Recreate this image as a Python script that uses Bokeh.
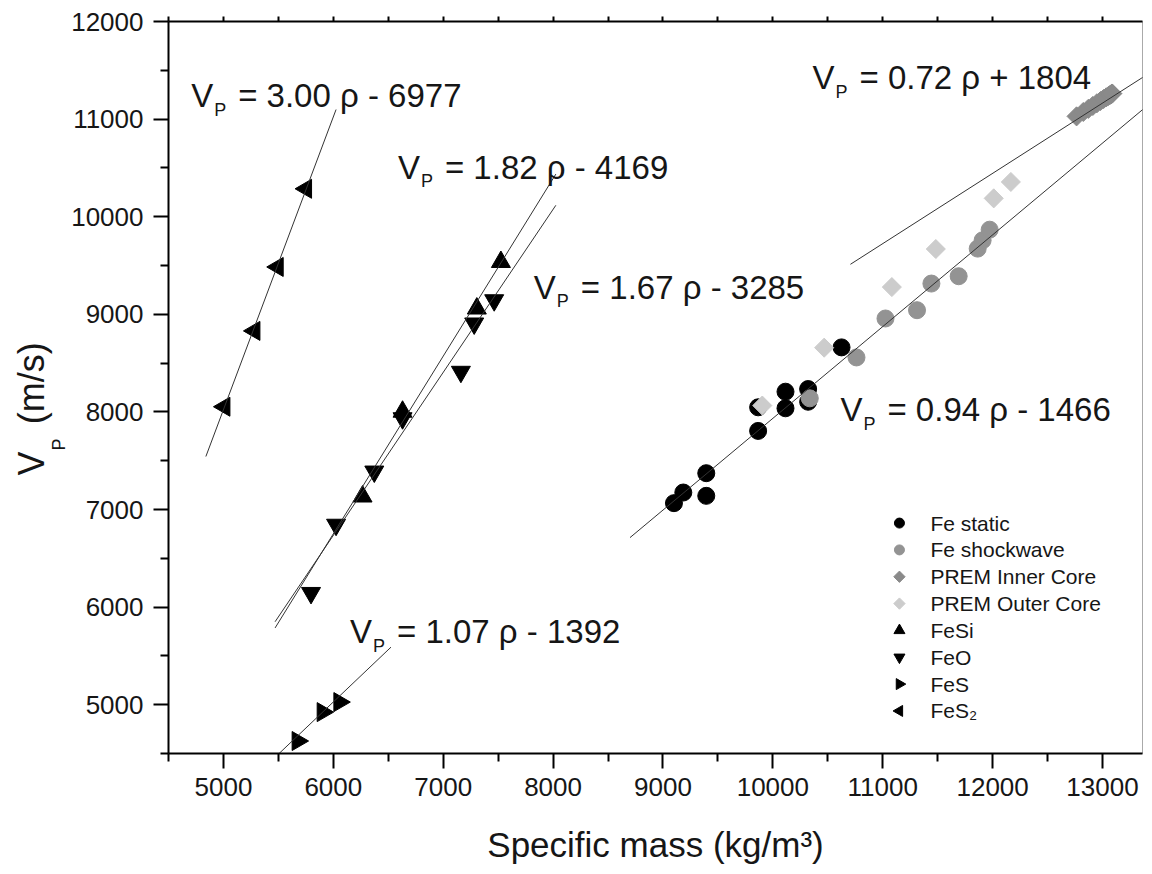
from bokeh.plotting import figure
from bokeh.models import Range1d, LinearAxis, Label, FixedTicker, Title
from bokeh.core.properties import value
from bokeh.embed import file_html
from bokeh.resources import INLINE

# ---------------- data ----------------
fe_static_rho = [9100, 9185, 9394, 9394, 9866, 9866, 10115, 10115, 10321, 10321, 10625]
fe_static_vp = [7065, 7174, 7140, 7372, 7805, 8047, 8207, 8037, 8234, 8104, 8661]

fe_shock_rho = [10336, 10761, 11025, 11312, 11443, 11691, 11864, 11909, 11973]
fe_shock_vp = [8139, 8558, 8957, 9042, 9315, 9390, 9673, 9758, 9867]

prem_inner_rho = [12764, 12825, 12871, 12912, 12949, 12982, 13010, 13034, 13054, 13069, 13080, 13086, 13089]
prem_inner_vp = [11028, 11073, 11105, 11135, 11162, 11185, 11206, 11223, 11237, 11248, 11256, 11261, 11262]

prem_outer_rho = [9904, 10467, 11083, 11483, 12010, 12166]
prem_outer_vp = [8065, 8658, 9279, 9669, 10188, 10356]

fesi_rho = [6266, 6630, 7306, 7525]
fesi_vp = [7133, 8002, 9059, 9536]

feo_rho = [5797, 6025, 6373, 6630, 7161, 7282, 7464]
feo_vp = [6145, 6844, 7389, 7935, 8411, 8906, 9144]

fes_rho = [5675, 5903, 6055]
fes_vp = [4628, 4924, 5027]

fes2_rho = [5009, 5282, 5494, 5752]
fes2_vp = [8053, 8830, 9485, 10286]

# linear fits (slope, intercept) and the density span each fit line covers
fit_slope = [3.00, 1.82, 1.67, 0.72, 0.94, 1.07]
fit_intercept = [-6977, -4169, -3285, 1804, -1466, -1392]
fit_rho0 = [4840, 5470, 5470, 10706, 8700, 5450]
fit_rho1 = [6025, 8025, 8025, 13500, 13390, 6525]
fit_text = ["= 3.00 \u03c1 - 6977", "= 1.82 \u03c1 - 4169", "= 1.67 \u03c1 - 3285",
            "= 0.72 \u03c1 + 1804", "= 0.94 \u03c1 - 1466", "= 1.07 \u03c1 - 1392"]

legend_labels = ["Fe static", "Fe shockwave", "PREM Inner Core", "PREM Outer Core",
                 "FeSi", "FeO", "FeS", "FeS\u2082"]

x_major = [5000, 6000, 7000, 8000, 9000, 10000, 11000, 12000, 13000]
x_minor = [4500, 5500, 6500, 7500, 8500, 9500, 10500, 11500, 12500]
y_major = [5000, 6000, 7000, 8000, 9000, 10000, 11000, 12000]
y_minor = [4500, 5500, 6500, 7500, 8500, 9500, 10500, 11500]

# ---------------- layout / style ----------------
FONT = "Liberation Sans"
TXT = "#161616"
# equation anchor positions (data units)
label_rho = [4706, 6588, 7825, 10361, 10615, 6152]
label_vp = [11241, 10505, 9278, 11425, 8020, 5749]
# manual legend placement (data units)
leg_marker_x = 11152
leg_text_x = 11434
leg_top_y = 6861
leg_step = 275

p = figure(width=1144, height=866, output_backend="svg", toolbar_location=None,
           x_range=Range1d(4500, 13364), y_range=Range1d(4500, 12000),
           min_border_left=168, min_border_right=2, min_border_top=21,
           min_border_bottom=112)
p.xgrid.visible = False
p.ygrid.visible = False
p.outline_line_color = "#aaaaaa"
p.outline_line_width = 1

for ax, maj, mnr in ((p.xaxis[0], x_major, x_minor), (p.yaxis[0], y_major, y_minor)):
    ax.ticker = FixedTicker(ticks=maj, minor_ticks=mnr)
    ax.axis_line_width = 2
    ax.major_tick_line_width = 2
    ax.minor_tick_line_width = 2
    ax.major_tick_in = 0
    ax.major_tick_out = 15
    ax.minor_tick_in = 0
    ax.minor_tick_out = 8
    ax.major_label_text_font = FONT
    ax.major_label_text_font_size = "26px"
    ax.major_label_text_color = TXT

p.xaxis.major_label_standoff = 9
p.yaxis.major_label_standoff = 10
p.xaxis.axis_label = "Specific mass (kg/m\u00b3)"
p.xaxis.axis_label_text_font = FONT
p.xaxis.axis_label_text_font_size = "35px"
p.xaxis.axis_label_text_font_style = "normal"
p.xaxis.axis_label_text_color = TXT
p.xaxis.axis_label_standoff = 26

# y axis title: subscript P (closer to the axis) and V ... (m/s)
p.add_layout(Title(text="P", text_font=FONT, text_font_size="18px", text_font_style="normal",
                   text_color=TXT, align="left", offset=303, standoff=0), "left")
p.add_layout(Title(text="V\u00a0\u00a0\u2009(m/s)", text_font=FONT, text_font_size="36px",
                   text_font_style="normal", text_color=TXT, align="left", offset=278,
                   standoff=-10), "left")

# top frame line with small outward ticks every 500 (minor ticks only -> no labels)
top = LinearAxis(ticker=FixedTicker(ticks=[], minor_ticks=sorted(x_major + x_minor)))
top.axis_line_width = 2
top.minor_tick_line_width = 2
top.minor_tick_in = 0
top.minor_tick_out = 5
top.major_label_standoff = 0
p.add_layout(top, "above")

# points
p.scatter(fe_static_rho, fe_static_vp, marker="circle", size=17, color="black")
p.scatter(fe_shock_rho, fe_shock_vp, marker="circle", size=17, color="#939393")
p.scatter(prem_inner_rho, prem_inner_vp, marker="square", angle=0.785398, size=13.5, color="#8a8a8a")
p.scatter(prem_outer_rho, prem_outer_vp, marker="square", angle=0.785398, size=13.5, color="#cccccc")
p.scatter(fesi_rho, fesi_vp, marker="triangle", size=19, color="black")
p.scatter(feo_rho, feo_vp, marker="inverted_triangle", size=19, color="black")
p.scatter(fes_rho, fes_vp, marker="triangle", angle=-1.5708, size=19, color="black")
p.scatter(fes2_rho, fes2_vp, marker="triangle", angle=1.5708, size=19, color="black")

# fit lines on top
for s, b, r0, r1 in zip(fit_slope, fit_intercept, fit_rho0, fit_rho1):
    p.line([r0, r1], [s * r0 + b, s * r1 + b], line_color="#333333", line_width=1)

# equations with subscript P
for t, lx, ly in zip(fit_text, label_rho, label_vp):
    p.add_layout(Label(x=lx, y=ly, text="V", text_font=FONT, text_font_size="33px",
                       text_baseline="alphabetic", text_color=TXT))
    p.add_layout(Label(x=lx, y=ly, text="P", x_offset=23, y_offset=-14, text_font=FONT,
                       text_font_size="18px", text_baseline="alphabetic", text_color=TXT))
    p.add_layout(Label(x=lx, y=ly, text=t, x_offset=47, text_font=FONT, text_font_size="33px",
                       text_baseline="alphabetic", text_color=TXT))

# manual legend
leg_y = [leg_top_y - i * leg_step for i in range(len(legend_labels))]
leg_x = [leg_marker_x] * len(legend_labels)
p.scatter(leg_x[0:2], leg_y[0:2], marker="circle", size=10, color=["black", "#939393"])
p.scatter(leg_x[2:4], leg_y[2:4], marker="square", angle=0.785398, size=8, color=["#8a8a8a", "#cccccc"])
p.scatter(leg_x[4:5], leg_y[4:5], marker="triangle", size=11, color="black")
p.scatter(leg_x[5:6], leg_y[5:6], marker="inverted_triangle", size=11, color="black")
p.scatter(leg_x[6:7], leg_y[6:7], marker="triangle", angle=-1.5708, size=11, color="black")
p.scatter(leg_x[7:8], leg_y[7:8], marker="triangle", angle=1.5708, size=11, color="black")
p.text([leg_text_x] * len(legend_labels), leg_y, text=legend_labels, text_font=value(FONT),
       text_font_size="21px", text_baseline="middle", text_align="left", text_color=TXT)

open("out.html", "w").write(file_html(p, INLINE))
